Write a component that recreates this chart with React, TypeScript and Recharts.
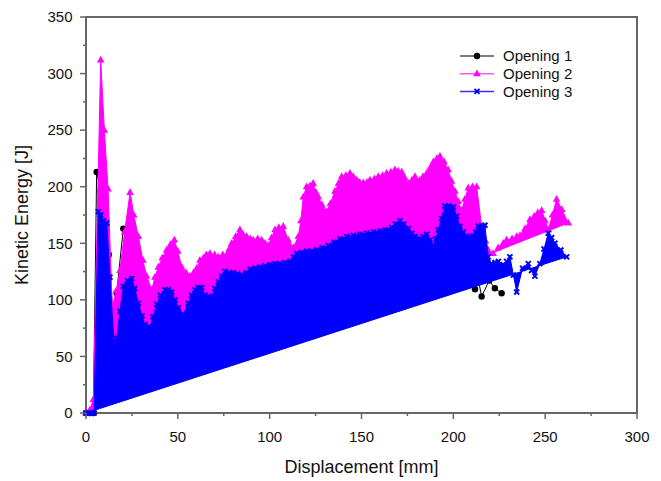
import { ScatterChart, Scatter, XAxis, YAxis, Legend, ReferenceArea } from 'recharts'

// displacement [mm], kinetic energy [J]
const opening1: [number, number][] = [
  [0, 0], [2, 0], [4, 0], [5.8, 213], [8, 196], [10.5, 172], [12.5, 140], [14.5, 90],
  [16.7, 106], [20.3, 163], [23, 148], [26, 128], [30, 106], [35, 92], [40, 101], [45, 110],
  [50, 102], [55, 98], [60, 110], [65, 112], [70, 116], [75, 122], [80, 126], [90, 131],
  [100, 134], [110, 138], [120, 146], [130, 152], [140, 158], [150, 162], [160, 166], [170, 170],
  [180, 164], [190, 160], [200, 174], [205, 160], [209, 134], [211.8, 109.4], [213.6, 118],
  [215.4, 103], [219.5, 117], [222.6, 110.3], [226.3, 105.9],
]

const opening2: [number, number][] = [
  [0, 0], [2.2, 3], [4, 12], [8, 312], [10, 250], [12, 198], [14.3, 94], [16.5, 108],
  [18.5, 126], [21, 160], [24, 195], [26, 175], [28.5, 156], [31, 135], [33, 121], [35.8, 109],
  [37.5, 120], [39.4, 129], [41.5, 137], [43.9, 144], [46, 149], [48.1, 153], [50, 143],
  [52.1, 129], [54.5, 124], [56.6, 121], [58.5, 124], [60.3, 128], [62, 135], [63.9, 137],
  [65.5, 140], [67.5, 141], [70, 140], [72, 138], [74.5, 140], [76.6, 140], [78, 145],
  [79.3, 150], [81.5, 156], [83.8, 162], [85.5, 158], [87.5, 156], [89.5, 154], [91.1, 153],
  [93.5, 154], [95.6, 153], [97.5, 150], [99.2, 148], [101, 155], [102.9, 162], [105, 164],
  [107.4, 165], [110.1, 153], [112.9, 146], [115.6, 156], [117, 170], [118.3, 191], [120.1, 200],
  [122, 201], [123.7, 203], [125.2, 195], [126.5, 191], [128.5, 184], [131, 178], [133, 185],
  [135.5, 196], [137.5, 203], [139.2, 209], [141.5, 210], [143.7, 212], [145.5, 209], [147.4, 206],
  [149, 204], [151, 203.5], [153, 204], [154.6, 206], [157, 207], [159.1, 209], [161.5, 210],
  [163.7, 212], [166, 213], [168.2, 215], [170, 214], [171.9, 213], [173.5, 208], [175.5, 203],
  [177.5, 206], [179.1, 209], [181.8, 206], [183.5, 209], [185.5, 212], [187.5, 217], [189.1, 222],
  [191, 225], [192.7, 227], [195, 222], [197.2, 215], [199, 205], [200.9, 196], [202.7, 187],
  [204.5, 179], [206.3, 189], [208.1, 199], [210.5, 200], [212.7, 200], [215.4, 165], [217.5, 152],
  [219, 144], [221.7, 141], [224.4, 146], [227.2, 150], [229, 153], [232, 154], [234.5, 156],
  [236.3, 157], [239, 163], [241.7, 171], [244, 174], [246, 177], [248.1, 179], [250, 170],
  [251.7, 162], [254, 175], [256.2, 189], [259, 180], [262.6, 168],
]

const opening3: [number, number][] = [
  [0, 0], [1.5, 0], [3, 0], [4.4, 0], [6.7, 178], [8, 175], [9.5, 170], [11.3, 168], [13, 120],
  [15.2, 63], [16.7, 66], [18.5, 90], [20.3, 112], [22.5, 117], [24.9, 119], [26.5, 110],
  [28.5, 97], [30.5, 86], [32.1, 78], [34.8, 76], [36.5, 85], [38.5, 96], [40.5, 104], [43, 109],
  [44.8, 109], [46.6, 107], [48.5, 100], [50.3, 93], [53, 87], [55.7, 97], [57.5, 104],
  [59.3, 109], [61, 111], [63, 111], [64.8, 104], [66.6, 103], [68.4, 103], [70.2, 110], [72, 116],
  [73.8, 121], [75.7, 125], [78, 124], [80.2, 124], [82.5, 123], [84.8, 122], [87, 124],
  [89.3, 127], [92, 128], [94.7, 129], [97.5, 130], [100.2, 131], [103, 132], [105.6, 132],
  [108.5, 133], [111.1, 134], [113, 138], [114.7, 141], [117.5, 142], [120.1, 143], [123, 143],
  [125.6, 144], [128.5, 146], [131.9, 148], [135, 151], [138.3, 154], [142, 156], [145.5, 157],
  [149, 158], [152.8, 159], [156.5, 160], [160, 161], [163, 162], [166.4, 164], [168.5, 167],
  [170.9, 170], [173, 167], [175.5, 163], [177.5, 159], [179.1, 156], [181.8, 154], [183.5, 156],
  [185.5, 158], [187.3, 153], [189.1, 148], [190.5, 154], [191.8, 162], [193.5, 172], [195.4, 183],
  [197.7, 183], [200, 182], [201.8, 174], [203.6, 165], [205.4, 160], [207.2, 156], [209, 156],
  [210.8, 156.5], [212.2, 160], [213.6, 165], [215.4, 165.5], [217.2, 166], [219, 138],
  [220.8, 132], [222.7, 133], [224.5, 134], [227.2, 131], [229, 134], [230.8, 138], [232.7, 122],
  [234.5, 107], [237.7, 128], [240.8, 132], [242.6, 126], [244.4, 121], [247.1, 132], [249.4, 145],
  [251.7, 159], [253.5, 155], [255.3, 150], [258.5, 144], [261.7, 138],
]

const xTicks = [0, 25, 50, 75, 100, 125, 150, 175, 200, 225, 250, 275, 300]
const yTicks = [0, 25, 50, 75, 100, 125, 150, 175, 200, 225, 250, 275, 300, 325, 350]

const FONT = '"Liberation Sans", Arial, sans-serif'
const AXIS = '#666'

type MarkerKind = 'circle' | 'triangle' | 'cross'

const series: { name: string; color: string; legendColor: string; marker: MarkerKind; rows: [number, number][]; filled: boolean }[] = [
  { name: 'Opening 1', color: '#000000', legendColor: '#555555', marker: 'circle', rows: opening1, filled: false },
  { name: 'Opening 2', color: '#ff00ff', legendColor: '#ff55ff', marker: 'triangle', rows: opening2, filled: true },
  { name: 'Opening 3', color: '#0000ff', legendColor: '#3333ff', marker: 'cross', rows: opening3, filled: true },
]

function Marker({ kind, cx, cy, color }: { kind: MarkerKind; cx: number; cy: number; color: string }) {
  if (cx == null || cy == null || Number.isNaN(cx) || Number.isNaN(cy)) return null
  if (kind === 'circle') return <circle cx={cx} cy={cy} r={3.2} fill={color} />
  if (kind === 'triangle') {
    return <polygon points={`${cx},${cy - 4.2} ${cx - 3.8},${cy + 2.6} ${cx + 3.8},${cy + 2.6}`} fill={color} />
  }
  return (
    <g stroke={color} strokeWidth={2}>
      <line x1={cx - 2.5} y1={cy - 2.5} x2={cx + 2.5} y2={cy + 2.5} />
      <line x1={cx - 2.5} y1={cy + 2.5} x2={cx + 2.5} y2={cy - 2.5} />
    </g>
  )
}

// closed trace: the joined points are filled as one polygon
const filledTrace = (color: string) => (props: any) => {
  const pts = (props.points || []) as { x: number; y: number }[]
  const d = pts.map((p, i) => `${i ? 'L' : 'M'}${p.x},${p.y}`).join(' ') + ' Z'
  return <path d={d} fill={color} stroke={color} strokeWidth={1} strokeLinejoin="round" />
}

function XTick(props: any) {
  const { x, y, payload } = props
  const major = payload.value % 50 === 0
  return (
    <g>
      <line x1={x} x2={x} y1={y} y2={y + (major ? 6 : 3)} stroke={AXIS} strokeWidth={1.5} />
      {major && (
        <text x={x} y={y + 29} textAnchor="middle" fontSize={15} fontFamily={FONT} fill="#111">
          {payload.value}
        </text>
      )}
    </g>
  )
}

function YTick(props: any) {
  const { x, y, payload } = props
  const major = payload.value % 50 === 0
  return (
    <g>
      <line x1={x} x2={x - (major ? 6 : 3)} y1={y} y2={y} stroke={AXIS} strokeWidth={1.5} />
      {major && (
        <text x={x - 13.5} y={y + 5.3} textAnchor="end" fontSize={15} fontFamily={FONT} fill="#111">
          {payload.value}
        </text>
      )}
    </g>
  )
}

function XTitle(props: any) {
  const vb = props.viewBox
  return (
    <text x={vb.x + vb.width / 2} y={vb.y + 54} textAnchor="middle" dominantBaseline="central" fontSize={18} fontFamily={FONT} fill="#111">
      Displacement [mm]
    </text>
  )
}

function YTitle(props: any) {
  const vb = props.viewBox
  const cx = vb.x + 22
  const cy = vb.y + vb.height / 2
  return (
    <text x={cx} y={cy} transform={`rotate(-90, ${cx}, ${cy})`} textAnchor="middle" dominantBaseline="central" fontSize={18} fontFamily={FONT} fill="#111">
      Kinetic Energy [J]
    </text>
  )
}

function LegendBox() {
  return (
    <svg width={150} height={56} style={{ display: 'block' }}>
      {series.map((s, i) => {
        const y = 10 + i * 17.7
        return (
          <g key={s.name}>
            <line x1={5} x2={39} y1={y} y2={y} stroke={s.legendColor} strokeWidth={1.5} />
            <Marker kind={s.marker} cx={22} cy={y} color={s.color} />
            <text x={48} y={y + 5.3} fontSize={15} fontFamily={FONT} fill="#111">
              {s.name}
            </text>
          </g>
        )
      })}
    </svg>
  )
}

export default function App() {
  return (
    <div style={{ position: 'absolute', left: 0, top: 0, background: '#fff' }}>
      <ScatterChart width={661} height={481} margin={{ top: 17, right: 24, bottom: 0, left: 0 }}>
        <XAxis
          type="number"
          dataKey="x"
          domain={[0, 300]}
          ticks={xTicks}
          interval={0}
          height={68}
          tickSize={0}
          tickMargin={0}
          tick={<XTick />}
          axisLine={{ stroke: AXIS, strokeWidth: 2 }}
          label={XTitle}
        />
        <YAxis
          type="number"
          dataKey="y"
          domain={[0, 350]}
          ticks={yTicks}
          interval={0}
          width={86}
          tickSize={0}
          tickMargin={0}
          tick={<YTick />}
          axisLine={{ stroke: AXIS, strokeWidth: 2 }}
          label={YTitle}
        />
        {series.map((s) => (
          <Scatter
            key={s.name}
            name={s.name}
            data={s.rows.map(([x, y]) => ({ x, y }))}
            fill={s.color}
            line={s.filled ? filledTrace(s.color) : { stroke: s.color, strokeWidth: 1 }}
            lineType="joint"
            shape={(p: any) => <Marker kind={s.marker} cx={p.cx} cy={p.cy} color={s.color} />}
            isAnimationActive={false}
          />
        ))}
        <ReferenceArea x1={0} x2={300} y1={0} y2={350} fill="none" stroke={AXIS} strokeWidth={2} />
        <Legend
          layout="vertical"
          align="center"
          verticalAlign="middle"
          wrapperStyle={{ left: 455, top: 46, width: 150 }}
          content={() => <LegendBox />}
        />
      </ScatterChart>
    </div>
  )
}
